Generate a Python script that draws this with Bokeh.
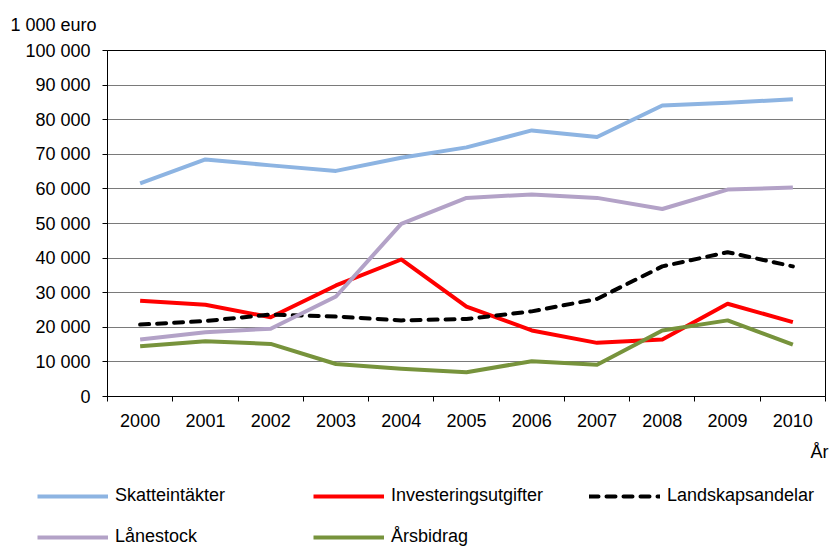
from bokeh.plotting import figure
from bokeh.models import (Range1d, FixedTicker, Legend, LegendItem, Title)
from bokeh.layouts import column
from bokeh.embed import file_html
from bokeh.resources import INLINE

years = ["2000", "2001", "2002", "2003", "2004", "2005", "2006", "2007", "2008", "2009", "2010"]
skatteintakter = [61600, 68500, 66800, 65200, 69000, 72000, 76900, 75000, 84100, 84900, 85900]
investeringsutgifter = [27700, 26500, 22900, 32100, 39600, 26000, 19100, 15500, 16500, 26800, 21500]
landskapsandelar = [20800, 21800, 23700, 23100, 22000, 22400, 24600, 28200, 37600, 41700, 37600]
lanestock = [16500, 18600, 19600, 28900, 49900, 57400, 58400, 57400, 54200, 59800, 60400]
arsbidrag = [14500, 16000, 15200, 9400, 8000, 7000, 10200, 9200, 19100, 22000, 15000]
y_ticks = [0, 10000, 20000, 30000, 40000, 50000, 60000, 70000, 80000, 90000, 100000]
y_tick_labels = ["0", "10 000", "20 000", "30 000", "40 000", "50 000", "60 000",
                 "70 000", "80 000", "90 000", "100 000"]
y_unit = "1 000 euro"
x_unit = "År"

FONT = "Liberation Sans"
W = 829
H_TOTAL = 547

n = len(years)
xs = [i + 0.5 for i in range(n)]

p = figure(frame_width=718, frame_height=346, output_backend="svg", toolbar_location=None,
           x_range=Range1d(0, n), y_range=Range1d(0, 100000),
           min_border_left=107, min_border_right=4, min_border_top=50, min_border_bottom=80)
p.outline_line_color = "black"
p.outline_line_width = 1
p.background_fill_color = "white"
p.border_fill_color = "white"

p.title = Title(text=y_unit, align="left", offset=-97, standoff=27, vertical_align="top",
                text_font=FONT, text_font_size="18px", text_font_style="normal",
                text_color="black")

# x axis
p.xaxis.ticker = FixedTicker(ticks=xs, minor_ticks=list(range(n + 1)))
p.xaxis.major_label_overrides = {x: y for x, y in zip(xs, years)}
p.xaxis.major_tick_out = 0
p.xaxis.major_tick_in = 0
p.xaxis.minor_tick_out = 5
p.xaxis.minor_tick_in = 0
p.xaxis.minor_tick_line_color = "black"
p.xaxis.axis_line_color = "black"
p.xaxis.major_label_text_font = FONT
p.xaxis.major_label_text_font_size = "18px"
p.xaxis.major_label_text_color = "black"
p.xaxis.major_label_standoff = 12
p.xgrid.visible = False

# y axis
p.yaxis.ticker = FixedTicker(ticks=y_ticks, minor_ticks=[])
p.yaxis.major_label_overrides = {t: l for t, l in zip(y_ticks, y_tick_labels)}
p.yaxis.major_tick_out = 5
p.yaxis.major_tick_in = 0
p.yaxis.major_tick_line_color = "black"
p.yaxis.axis_line_color = "black"
p.yaxis.major_label_text_font = FONT
p.yaxis.major_label_text_font_size = "18px"
p.yaxis.major_label_text_color = "black"
p.yaxis.major_label_standoff = 12
p.ygrid.ticker = FixedTicker(ticks=y_ticks)
p.ygrid.grid_line_color = "#7a7a7a"
p.ygrid.grid_line_width = 1

series = [
    ("Skatteintäkter", skatteintakter, "#8db4e2", "solid"),
    ("Investeringsutgifter", investeringsutgifter, "#ff0000", "solid"),
    ("Landskapsandelar", landskapsandelar, "black", "9 8"),
    ("Lånestock", lanestock, "#b3a2c7", "solid"),
    ("Årsbidrag", arsbidrag, "#77933c", "solid"),
]
for name, vals, color, dash in series:
    p.line(xs, vals, line_color=color, line_width=4, line_dash=dash,
           line_cap="round" if dash != "solid" else "butt", line_join="round")

# "År" unit label below the axis, right aligned
p.add_layout(Title(text=x_unit, align="right", offset=-3, standoff=24, vertical_align="top",
                   text_font=FONT, text_font_size="18px", text_font_style="normal",
                   text_color="black"), "below")

P_HEIGHT = 50 + 346 + 80

# legend panel (separate figure whose frame is the whole canvas)
H2 = H_TOTAL - P_HEIGHT
p2 = figure(width=W, height=H2, output_backend="svg", toolbar_location=None,
            x_range=Range1d(0, n), y_range=Range1d(-3, -2),
            x_axis_type=None, y_axis_type=None, min_border=0)
p2.outline_line_color = None
p2.xgrid.visible = False
p2.ygrid.visible = False
p2.border_fill_color = "white"
p2.background_fill_color = "white"
for fig in (p, p2):
    try:
        fig.frame_align = False
    except AttributeError:
        pass

leg_renderers = {}
for name, vals, color, dash in series:
    # same data; lies outside this panel's visible range, only used for the legend swatch
    leg_renderers[name] = p2.line(xs, vals, line_color=color, line_width=4, line_dash=dash,
                                  line_cap="round" if dash != "solid" else "butt")

rows = [["Skatteintäkter", "Investeringsutgifter", "Landskapsandelar"],
        ["Lånestock", "Årsbidrag"]]
row_bottoms = [H_TOTAL - 496 - 10, 0]
for names, yb in zip(rows, row_bottoms):
    lg = Legend(items=[LegendItem(label=nm, renderers=[leg_renderers[nm]]) for nm in names],
                location=(37, yb), orientation="horizontal",
                glyph_width=71, glyph_height=20, label_height=20, label_width=198,
                label_standoff=7, padding=0, margin=0, spacing=0,
                border_line_color=None, background_fill_alpha=0,
                label_text_font=FONT, label_text_font_size="18px", label_text_color="black")
    p2.add_layout(lg, "center")

layout = column(p, p2, spacing=0)
open("out.html", "w").write(file_html(layout, INLINE))
